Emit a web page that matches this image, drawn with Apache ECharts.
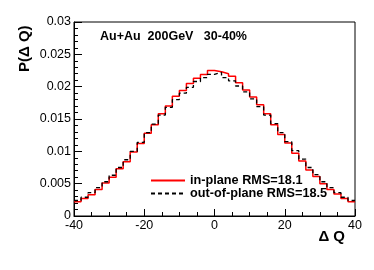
<!DOCTYPE html>
<html><head><meta charset="utf-8">
<script src="https://cdn.jsdelivr.net/npm/echarts@6/dist/echarts.min.js"></script>
<style>html,body{margin:0;padding:0;background:#fff}#c{width:374px;height:270px}</style>
</head><body><div id="c"></div><script>
// lower edges of the 2-unit bins of the histogram
const binLow = [-40,-38,-36,-34,-32,-30,-28,-26,-24,-22,-20,-18,-16,-14,-12,-10,-8,-6,-4,-2,
                0,2,4,6,8,10,12,14,16,18,20,22,24,26,28,30,32,34,36,38];
const binHigh = 40;
// in-plane P(ΔQ)
const inPlane = [0.0022,0.0027,0.0033,0.0041,0.0051,0.0060,0.0073,0.0084,0.0099,0.0112,
                 0.0128,0.0141,0.0158,0.0170,0.0185,0.0194,0.0205,0.0213,0.0219,0.0225,
                 0.0223,0.0220,0.0216,0.0206,0.0195,0.0184,0.0172,0.0158,0.0141,0.0126,
                 0.0113,0.0097,0.0085,0.0071,0.0061,0.0050,0.0041,0.0034,0.0027,0.0022];
// out-of-plane P(ΔQ)
const outPlane = [0.0024,0.0029,0.0036,0.0044,0.0053,0.0063,0.0075,0.0087,0.0100,0.0114,
                  0.0129,0.0142,0.0156,0.0168,0.0180,0.0190,0.0199,0.0208,0.0214,0.0219,
                  0.0222,0.0214,0.0209,0.0201,0.0192,0.0181,0.0169,0.0156,0.0143,0.0129,
                  0.0115,0.0101,0.0088,0.0075,0.0064,0.0053,0.0044,0.0036,0.0029,0.0024];
const xTicks = [-40, 40, 20];        // min, max, interval
const yTicks = [0, 0.03, 0.005];     // min, max, interval
const seriesNames = ['in-plane RMS=18.1', 'out-of-plane RMS=18.5'];
const annotation = 'Au+Au  200GeV   30-40%';

function toSteps(vals) {
  const d = binLow.map((x, i) => [x, vals[i]]);
  d.push([binHigh, vals[vals.length - 1]]);
  return d;
}

const chart = echarts.init(document.getElementById('c'), null, {renderer: 'canvas'});
const font = 'Liberation Sans, Arial, Helvetica, sans-serif';
chart.setOption({
  animation: false,
  backgroundColor: '#fff',
  grid: {left: 74, right: 19, top: 22, bottom: 54, show: true, borderColor: '#000', borderWidth: 1},
  xAxis: {
    type: 'value', min: xTicks[0], max: xTicks[1], interval: xTicks[2],
    axisLine: {onZero: false, lineStyle: {color: '#000', width: 1}},
    axisTick: {inside: true, length: 7, lineStyle: {color: '#000'}},
    minorTick: {show: true, splitNumber: 4, length: 4, lineStyle: {color: '#000'}},
    splitLine: {show: false},
    axisLabel: {color: '#000', fontSize: 12.5, fontFamily: font, margin: 3}
  },
  yAxis: {
    type: 'value', min: yTicks[0], max: yTicks[1], interval: yTicks[2],
    axisLine: {show: true, onZero: false, lineStyle: {color: '#000', width: 1}},
    axisTick: {show: true, inside: true, length: 8, lineStyle: {color: '#000'}},
    minorTick: {show: true, splitNumber: 5, length: 4, lineStyle: {color: '#000'}},
    splitLine: {show: false},
    axisLabel: {color: '#000', fontSize: 12.5, fontFamily: font, margin: 3}
  },
  legend: {
    orient: 'vertical', left: 145, top: 169, itemWidth: 34, itemHeight: 14, itemGap: 0,
    itemStyle: {opacity: 0, borderWidth: 0},
    textStyle: {color: '#000', fontSize: 12.7, fontWeight: 'bold', fontFamily: font},
    data: seriesNames
  },
  series: [
    {name: seriesNames[0], type: 'line', step: 'end', symbol: 'none', data: toSteps(inPlane),
     lineStyle: {color: '#ff0000', width: 1.5}, itemStyle: {color: '#ff0000'}, z: 2},
    {name: seriesNames[1], type: 'line', step: 'end', symbol: 'none', data: toSteps(outPlane),
     lineStyle: {color: '#000', width: 1.3, type: [4, 3]}, itemStyle: {color: '#000'}, z: 3}
  ],
  graphic: [
    {type: 'text', left: 100, top: 30, style: {text: annotation, fill: '#000', font: 'bold 12.5px ' + font}},
    {type: 'text', right: 29, top: 229, style: {text: 'Δ Q', fill: '#000', font: 'bold 15px ' + font}},
    {type: 'text', x: 17, y: 72, rotation: Math.PI / 2, style: {text: 'P(Δ Q)', fill: '#000', font: 'bold 15px ' + font, textAlign: 'left', textVerticalAlign: 'top'}}
  ]
});
</script></body></html>
